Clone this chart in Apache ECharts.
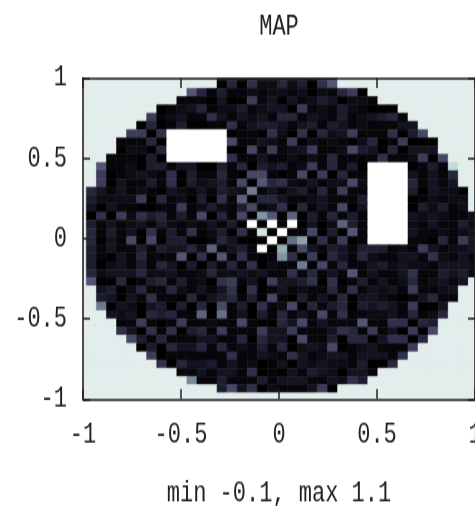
<!DOCTYPE html>
<html><head><meta charset="utf-8">
<style>html,body{margin:0;padding:0;background:#fff;width:475px;height:506px;overflow:hidden}#c{width:475px;height:379.5px;transform:scaleY(1.33333);transform-origin:0 0}</style>
<script src="https://cdn.jsdelivr.net/npm/echarts@6/dist/echarts.min.js"></script>
</head><body><div id="c"></div>
<script>
const titleText = "MAP";
const xLabelText = "min -0.1, max 1.1";
const tickStep = 0.5;
const cellStep = 2 / 39;
const xOrigin = -1.034;
const yOrigin = -1.014;
const outside = 100;
const white = 110;
const W = white;
// values in hundredths; each row from the top, first aperture column in rowStart
const rowStart = [13,13,10,9,7,6,5,4,3,3,2,1,1,1,0,0,0,0,0,0,0,0,0,0,0,0,1,1,1,2,3,3,4,5,6,7,9,10,13];
const rows = [
[0,5,0,-5,0,5,0,5,0,-5,5,5],
[-10,15,-10,20,0,0,15,0,10,-10,20,35],
[35,15,-5,10,-5,-5,0,-5,0,0,-5,0,-10,0,-5,15,25,-10],
[-5,-5,-5,-10,5,-10,-10,25,-5,5,-10,5,-5,0,10,5,-10,0,0,-5],
[-10,-5,0,5,15,-5,0,0,10,-5,0,5,5,-10,25,-5,0,-5,10,0,-5,-10,-10,-10],
[25,-5,0,5,-5,-5,20,5,-5,5,0,5,-5,15,15,-5,5,0,-5,10,-5,0,5,10,15,-5],
[-10,15,-10,-5,10,-10,-10,-5,-5,20,-5,5,10,10,5,-5,5,10,-5,10,5,-5,0,-5,-5,-5,5,5],
[25,25,-10,20,W,W,W,W,W,W,-10,-5,-5,-10,20,0,-10,20,-10,15,0,5,25,-5,-5,-5,20,-10,10,30],
[-5,-5,-5,15,-10,W,W,W,W,W,W,30,-5,-5,5,0,-5,25,-10,0,-5,0,-5,-10,0,15,-10,-5,25,-10,-10,-10],
[-10,0,0,-10,15,W,W,W,W,W,W,-10,-10,30,-5,25,-5,0,5,25,-5,-5,0,30,10,5,-10,15,-10,5,5,5],
[-5,-5,-5,-10,10,-10,W,W,W,W,W,W,20,-5,-5,5,-5,-5,0,-5,0,-5,15,-5,-5,-5,-5,20,-5,-5,0,25,-10,30],
[35,-5,-5,0,-10,10,10,-5,5,5,-10,-10,10,-5,15,-10,10,5,10,-5,0,25,-5,15,-5,10,-10,W,W,W,W,-10,-5,10,-5,90],
[25,-10,-5,0,5,0,-5,20,-10,10,-5,-5,15,-5,-10,30,30,-5,-10,-5,30,-10,25,-10,15,-5,-5,W,W,W,W,5,-5,5,-5,15],
[25,-10,5,-5,-5,10,-5,20,-10,10,0,5,10,-5,30,-10,35,15,20,0,-5,5,-5,0,0,30,0,W,W,W,W,15,-5,5,-5,5],
[15,5,-5,5,-5,0,-5,-10,5,0,-5,5,-5,10,5,0,50,-5,5,-5,5,10,-5,15,-5,25,-5,-5,W,W,W,W,10,-10,5,0,0,-10],
[10,0,0,0,0,25,-10,15,-5,0,-10,10,-10,20,-5,40,-10,15,15,5,-5,-5,0,5,-5,-5,-5,10,W,W,W,W,-10,-5,0,-5,0,0],
[5,-10,5,-5,-5,-10,-10,-5,-5,25,-5,0,10,0,-5,10,30,-5,0,20,-10,15,-5,5,-5,30,-10,5,W,W,W,W,-10,10,0,10,-5,0],
[-10,20,-10,25,0,20,10,15,-5,10,-5,30,-10,15,-5,30,-10,60,35,-10,40,-10,10,-5,15,-5,10,-5,W,W,W,W,5,0,5,0,-5,-5,0],
[10,-5,5,-5,0,5,-5,10,0,-5,0,-5,5,-5,10,-10,W,-10,W,-5,W,-10,5,-10,0,40,10,-5,W,W,W,W,0,-5,5,-5,-5,10,0],
[15,-5,10,-5,5,-10,20,-5,10,-5,20,-5,0,10,-10,20,-5,95,-10,W,-5,-5,30,-10,10,-10,35,-5,W,W,W,W,5,-5,-5,0,-5,0,5],
[15,-10,5,-5,30,-10,30,-10,10,10,-10,-10,-5,15,5,-10,-10,-10,W,-10,45,65,-10,20,-5,25,-10,-5,W,W,W,W,-5,-5,-10,15,-5,25,5],
[10,-5,5,-5,-5,10,-5,10,5,5,15,0,40,-5,5,10,-5,W,-10,70,-5,30,5,-5,10,5,-5,10,10,10,-5,0,-5,25,5,-5,0,0,5],
[10,-5,-10,5,-5,15,-5,-5,-5,35,-10,20,-10,35,-5,20,-5,-10,-5,60,20,-10,25,-10,15,5,-5,15,0,-5,-5,5,5,-5,20,0,-5,5,-5],
[10,-10,0,5,-5,10,-5,15,5,-10,10,-10,10,-5,15,-5,20,-10,0,-5,-5,50,-10,30,-5,15,-5,-5,5,10,0,5,0,0,-5,5,5,5,0],
[15,0,5,5,5,15,0,0,5,-5,-5,0,15,0,0,5,0,5,-5,-5,20,-5,15,-5,5,-5,35,-5,5,-5,-5,5,20,-5,-5,10,5,10,-5],
[35,-10,-10,15,-10,-5,10,15,-5,10,-5,0,-10,20,25,-5,5,-10,25,5,5,10,20,-10,20,-10,-5,10,-5,5,-5,0,15,-5,0,5,-5,5],
[5,10,-10,0,15,-5,-5,15,0,-5,5,-5,5,20,-10,20,-10,-5,5,-5,0,-5,-5,15,-5,20,-5,5,0,5,-5,25,-5,-5,0,5],
[10,5,-10,5,-5,20,-5,-5,-10,15,-5,5,10,15,-5,10,-10,30,-5,-10,10,-5,5,-5,15,-10,5,5,0,-5,-10,-5,5,15,-5,-5],
[50,-10,5,0,-10,5,10,-10,10,-10,15,-10,30,-5,10,-10,20,-5,0,30,-10,15,-5,10,15,-10,10,5,10,5,-5,25,-10,-10,5],
[5,0,5,-10,15,10,15,-5,-5,40,-10,45,-5,5,-10,10,-5,15,-5,5,-5,30,-5,20,-5,-5,0,0,5,-5,15,-5,0,15],
[-5,-5,25,-5,-10,-5,25,-5,-5,0,-5,-5,30,-5,-10,-10,15,5,30,-5,5,-5,-5,-5,35,-5,-5,20,20,-10,15,10],
[20,5,-10,20,-5,20,-10,10,15,-5,25,-5,-5,-5,25,5,5,25,-5,-5,-5,5,20,15,-5,25,-5,5,-10,25,-10,30],
[30,10,-5,15,-5,-5,-5,5,5,-5,-5,15,-10,15,5,5,-10,30,-5,-5,10,-10,15,15,-10,5,20,20,-10,15],
[-10,10,-10,15,5,5,15,-5,15,-5,0,-5,10,-5,15,-10,0,5,0,30,-10,-5,0,5,-5,-5,-5,25],
[25,-10,-5,-5,-5,-5,-5,-5,20,-5,-5,5,0,-5,20,5,-5,0,5,5,-5,5,5,5,-5,20],
[20,-10,15,5,5,10,-5,5,-5,0,-10,-5,5,-10,5,0,5,0,0,-5,10,-10,-10,15],
[-5,-5,5,-5,5,5,-5,20,-10,-5,-10,5,-5,10,5,0,-10,5,5,-5],
[55,-5,-5,10,-5,-5,-5,10,-5,5,5,5,-5,-5,5,0,20,10],
[10,30,5,20,-10,0,-5,-5,-5,5,25,-10]
];
const boneStops = ["#000000","#141420","#30304a","#545474","#6f7c8f","#8ba3ab","#a8c9c7","#d3e4e3","#ffffff"];
const valueMin = -0.1, valueMax = 1.1;

const gridRows = 40, gridCols = 40;
const cells = [];
for (let t = 0; t < gridRows; t++) {
  const r = t < rows.length ? rows[t] : [];
  const s = t < rowStart.length ? rowStart[t] + 1 : 0;
  for (let i = 0; i < gridCols; i++) {
    const raw = (i >= s && i - s < r.length) ? r[i - s] : outside;
    cells.push([xOrigin + i * cellStep, yOrigin + (gridRows - 1 - t) * cellStep, raw / 100]);
  }
}
const font = "'Liberation Mono', monospace";
const ink = "#222";
function axisCommon(extra, tickLen) {
  return Object.assign({
    type: "value", min: -1, max: 1, interval: tickStep, z: 5,
    axisLine: { show: true, onZero: false, lineStyle: { color: ink, width: 1.6 } },
    axisTick: { show: true, inside: true, length: tickLen, lineStyle: { color: ink, width: 1.5 } },
    splitLine: { show: false }
  }, extra);
}
const chart = echarts.init(document.getElementById("c"), null, { renderer: "canvas" });
chart.setOption({
  animation: false,
  backgroundColor: "#fff",
  title: { text: titleText, left: 274, top: 4, textAlign: "center",
    textStyle: { fontFamily: font, fontWeight: "normal", fontSize: 22, color: ink } },
  grid: { left: 83, top: 58.5, width: 392, height: 240.75, outerBoundsMode: "none" },
  xAxis: [
    axisCommon({ position: "bottom", name: xLabelText, nameLocation: "middle", nameGap: 60,
      nameTextStyle: { fontFamily: font, fontSize: 22, color: ink },
      axisLabel: { fontFamily: font, fontSize: 22, color: ink, margin: 16 } }, 7.5),
    axisCommon({ position: "top", axisLabel: { show: false } }, 7.5)
  ],
  yAxis: [
    axisCommon({ position: "left", axisLabel: { fontFamily: font, fontSize: 22, color: ink, margin: 16 } }, 7),
    axisCommon({ position: "right", axisLabel: { show: false } }, 7)
  ],
  visualMap: { show: false, type: "continuous", seriesIndex: 0, dimension: 2,
    min: valueMin, max: valueMax, inRange: { color: boneStops } },
  series: [{
    type: "custom",
    coordinateSystem: "cartesian2d",
    clip: true,
    data: cells,
    encode: { x: 0, y: 1 },
    renderItem: function (params, api) {
      const a = api.coord([api.value(0), api.value(1) + cellStep]);
      const b = api.coord([api.value(0) + cellStep, api.value(1)]);
      const rect = echarts.graphic.clipRectByRect(
        { x: a[0], y: a[1], width: b[0] - a[0], height: b[1] - a[1] },
        params.coordSys);
      if (!rect) return null;
      const c = api.visual("color");
      return { type: "rect", shape: rect, style: { fill: c, stroke: c, lineWidth: 0.6 } };
    }
  }]
});
</script></body></html>
